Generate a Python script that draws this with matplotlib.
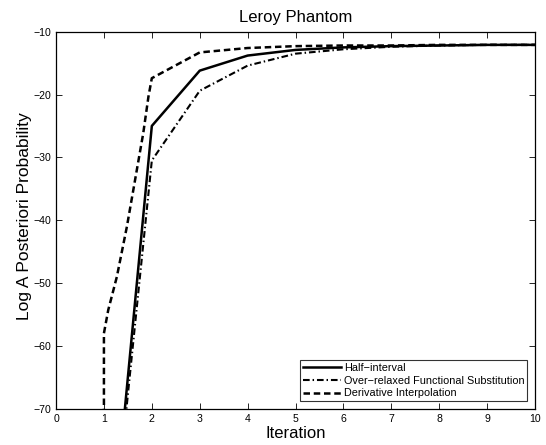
import matplotlib
matplotlib.use('Agg')
import matplotlib.pyplot as plt

plt.rcParams['font.family'] = ['Liberation Sans', 'DejaVu Sans']

# Data
iters = [1, 2, 3, 4, 5, 6, 7, 8, 9, 10]
half_interval = [-105, -25.0, -16.2, -13.8, -12.9, -12.5, -12.3, -12.2, -12.1, -12.1]
over_relaxed = [-105, -30.5, -19.4, -15.4, -13.5, -12.8, -12.4, -12.2, -12.1, -12.1]

deriv_x = [1, 1, 1.09, 1.27, 1.48, 1.65, 1.82, 1.93, 2, 3, 4, 5, 6, 7, 8, 9, 10]
deriv_interp = [-105, -58, -54.3, -49.0, -41.0, -33.6, -26.2, -20.3, -17.4, -13.3,
                -12.6, -12.3, -12.2, -12.2, -12.1, -12.1, -12.1]

fig = plt.figure(figsize=(5.46, 4.45), dpi=100)
ax = fig.add_axes([0.1026, 0.0816, 0.8774, 0.8472])

ax.plot(iters, half_interval, '-', color='black', lw=1.8, label='Half\u2212interval')
ax.plot(iters, over_relaxed, color='black', lw=1.5, linestyle=(0, (3.2, 1.4, 0.7, 1.4)),
        label='Over\u2212relaxed Functional Substitution')
ax.plot(deriv_x, deriv_interp, color='black', lw=1.8, linestyle=(0, (2.6, 1.5)),
        label='Derivative Interpolation')

ax.set_xlim(0, 10)
ax.set_ylim(-70, -10)
ax.set_xticks(range(0, 11))
ax.set_yticks(range(-70, -9, 10))
ax.set_yticklabels([f'\u2212{abs(v)}' for v in range(-70, -9, 10)])
ax.tick_params(direction='in', top=True, right=True, labelsize=7.6, length=4, width=0.6)
for s in ax.spines.values():
    s.set_linewidth(0.9)

ax.set_title('Leroy Phantom', fontsize=12, pad=7)
ax.set_xlabel('Iteration', fontsize=12, labelpad=2)
ax.set_ylabel('Log A Posteriori Probability', fontsize=12.5)
ax.yaxis.set_label_coords(-0.05, 0.51)

leg = ax.legend(loc='lower right', fontsize=7.8, frameon=True, fancybox=False,
                handlelength=3.5, borderpad=0.25, labelspacing=0.25, handletextpad=0.3,
                borderaxespad=0.7)
leg.get_frame().set_edgecolor('black')
leg.get_frame().set_linewidth(0.8)

fig.savefig('out.png', dpi=100)
